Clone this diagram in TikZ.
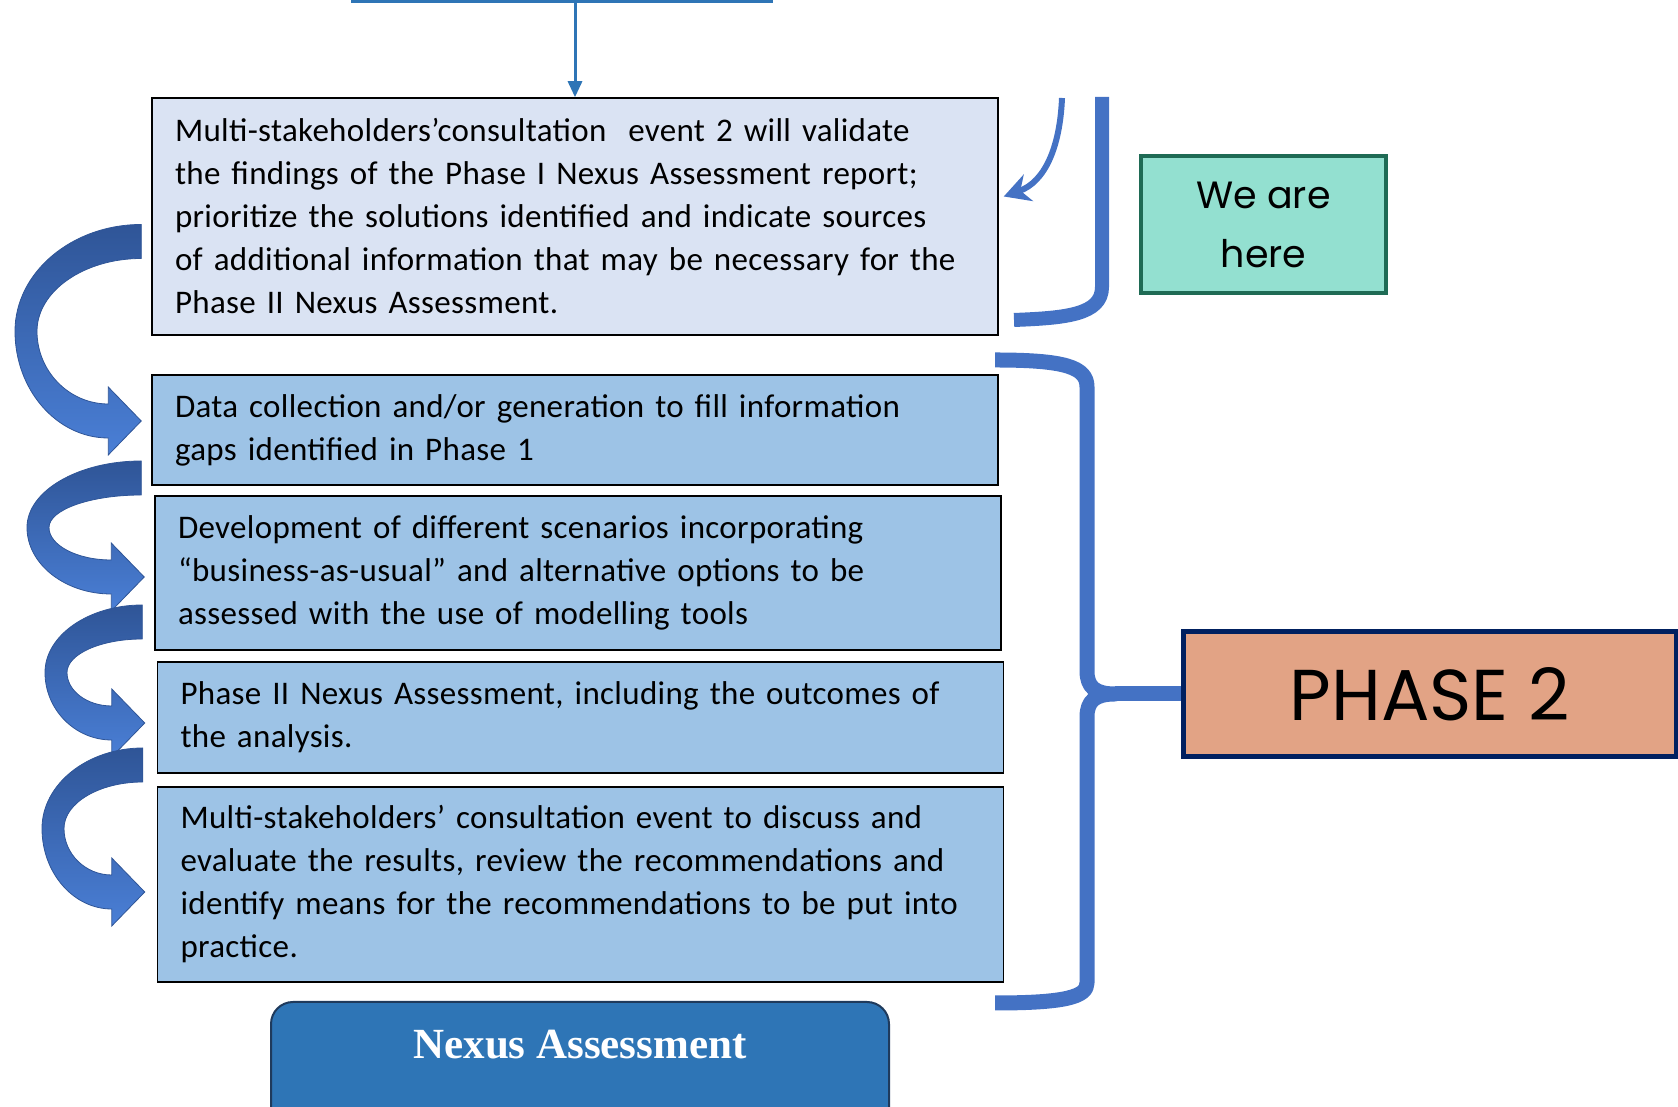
\documentclass[tikz,border=0pt]{standalone}
\usepackage{fontspec}
\setmainfont{Carlito}[LetterSpace=1.0]
\newfontfamily\geofont{Poppins}
\newfontfamily\serifbold{Liberation Serif}
\usetikzlibrary{arrows.meta,calc}

\definecolor{palefill}{HTML}{DAE3F3}
\definecolor{stagefill}{HTML}{9DC3E6}
\definecolor{nexusblue}{HTML}{2E75B6}
\definecolor{nexusedge}{HTML}{1F3A5C}
\definecolor{bracecol}{HTML}{4472C4}
\definecolor{ribdark}{HTML}{2F5597}
\definecolor{riblight}{HTML}{4A7FD6}
\definecolor{mint}{HTML}{93E0D0}
\definecolor{pine}{HTML}{1F6B55}
\definecolor{salmon}{HTML}{E2A385}
\definecolor{navy}{HTML}{002060}

% bent ribbon arrow: start, tip, leftmost x
\newcommand\bendarrow[3]{%
  \path[ribbon] let \p1=(#1), \p2=(#2), \n1={(\y1+\y2)/2} in
    (\x1,\y1+17) .. controls ({0.45*\x1+0.55*#3},\y1+17) and (#3,{0.45*\n1+0.55*(\y1+17)}) .. (#3,\n1)
    .. controls (#3,{0.45*\n1+0.55*(\y2-17)}) and ({0.45*(\x2-33)+0.55*#3},\y2-17) .. (\x2-33,\y2-17)
    -- (\x2-33,\y2-34) -- (\x2,\y2) -- (\x2-33,\y2+34) -- (\x2-33,\y2+17)
    .. controls ({0.45*(\x2-33)+0.55*(#3+22)},\y2+17) and (#3+22,{0.45*\n1+0.55*(\y2+17)}) .. (#3+22,\n1)
    .. controls (#3+22,{0.45*\n1+0.55*(\y1-17)}) and ({0.45*\x1+0.55*(#3+22)},\y1-17) .. (\x1,\y1-17)
    -- cycle;
}

\begin{document}
\begin{tikzpicture}[
  x=1pt, y=1pt,
  stage/.style={draw, line width=1.5pt, fill=stagefill, text width=800pt,
    inner xsep=23pt, inner ysep=0pt, align=left,
    font=\fontsize{33}{43}\selectfont},
  ribbon/.style={top color=ribdark, bottom color=riblight, draw=ribdark, line width=0.8pt},
  br/.style={draw=bracecol, line width=15pt, line join=round}
]
\useasboundingbox (0,0) rectangle (1678,1107);
\clip (0,0) rectangle (1678,1107);

\node[draw=nexusblue, line width=4pt, minimum width=418pt, minimum height=60pt, anchor=south] (0) at (562,1104) {};

\node[stage, fill=palefill, minimum height=237pt] (1) at (575,890.5)
  {Multi-stakeholders’consultation\ \ event 2 will validate\\
   the findings of the Phase I Nexus Assessment report;\\
   prioritize the solutions identified and indicate sources\\
   of additional information that may be necessary for the\\
   Phase II Nexus Assessment.};
\node[stage, minimum height=110pt] (2) at (575,677)
  {Data collection and/or generation to fill information\\
   gaps identified in Phase 1};
\node[stage, minimum height=154pt] (3) at (578,534)
  {Development of different scenarios incorporating\\
   “business-as-usual” and alternative options to be\\
   assessed with the use of modelling tools};
\node[stage, minimum height=111pt] (4) at (580.5,389.5)
  {Phase II Nexus Assessment, including the outcomes of\\
   the analysis.};
\node[stage, minimum height=195pt] (5) at (580.5,222.5)
  {Multi-stakeholders’ consultation event to discuss and\\
   evaluate the results, review the recommendations and\\
   identify means for the recommendations to be put into\\
   practice.};

\node[draw=nexusedge, line width=2pt, fill=nexusblue, rounded corners=22pt,
  minimum width=618pt, text height=57pt, text depth=120pt, inner ysep=0pt,
  anchor=north, text=white, font=\serifbold\bfseries\fontsize{43}{43}\selectfont] (6) at (580,106) {Nexus Assessment};

\node[draw=pine, line width=4.5pt, fill=mint, minimum width=245pt, minimum height=137pt,
  align=center, font=\geofont\fontsize{38}{59}\selectfont] (here) at (1263.5,882.5) {We are\\here};
\node[draw=navy, line width=5pt, fill=salmon, minimum width=493pt, minimum height=125pt,
  font=\geofont\fontsize{72}{72}\selectfont] (ph) at (1429.5,413) {PHASE 2};

% arrow from above
\draw[nexusblue, line width=3pt, -{Triangle[length=16pt,width=14pt]}] (1.north |- 0.south) -- (1.north);

% bent arrows down the left side
\bendarrow{[shift={(-10,-25)}]1.west}{[shift={(-10,9)}]2.west}{15}
\bendarrow{[shift={(-10,-48)}]2.west}{[shift={(-10,-4)}]3.west}{27}
\bendarrow{[shift={(-12,-49)}]3.west}{[shift={(-12,-5.5)}]4.west}{45}
\bendarrow{[shift={(-14,-47.5)}]4.west}{[shift={(-12,-7.5)}]5.west}{42}

% brackets
\draw[br, line width=14pt] (1014,787) .. controls (1065,789) and (1102,792) .. (1102,820) -- (1102,1010);
\coordinate (a0) at (1062,1009);
\draw[bracecol, line width=6pt, -{Stealth[length=26pt,width=28pt]}] (a0) .. controls (1060,960) and (1045,925) .. ([shift={(5,20)}]1.east);

\draw[br] (995,747) .. controls (1065,747) and (1087,740) .. (1087,720) -- (1087,436)
  .. controls (1087,420) and (1095,413) .. (1115,413) coordinate (tip)
  .. controls (1095,413) and (1087,406) .. (1087,390) -- (1087,124)
  .. controls (1087,110) and (1065,104) .. (995,104);
\draw[br] (tip) -- (ph.west);
\end{tikzpicture}
\end{document}
